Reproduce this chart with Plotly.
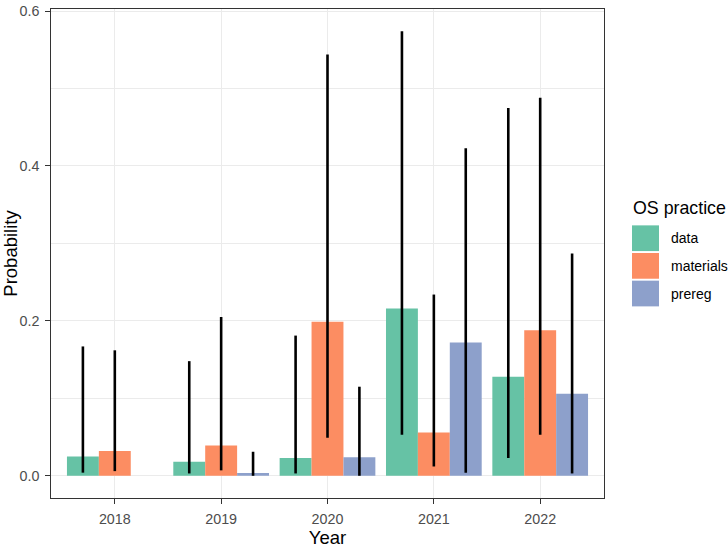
import plotly.graph_objects as go

years = ["2018", "2019", "2020", "2021", "2022"]
practices = ["data", "materials", "prereg"]
colors = ["#66C2A5", "#FC8D62", "#8DA0CB"]

data_p = [0.025, 0.018, 0.023, 0.216, 0.128]
data_lo = [0.004, 0.003, 0.003, 0.053, 0.023]
data_hi = [0.167, 0.148, 0.181, 0.574, 0.475]

materials_p = [0.032, 0.039, 0.199, 0.056, 0.188]
materials_lo = [0.006, 0.007, 0.049, 0.012, 0.053]
materials_hi = [0.162, 0.205, 0.544, 0.234, 0.488]

prereg_p = [None, 0.0035, 0.024, 0.172, 0.106]
prereg_lo = [None, 0.0, 0.0, 0.004, 0.003]
prereg_hi = [None, 0.031, 0.115, 0.423, 0.287]

y_ticks = [0.0, 0.2, 0.4, 0.6]

series = [
    (data_p, data_lo, data_hi),
    (materials_p, materials_lo, materials_hi),
    (prereg_p, prereg_lo, prereg_hi),
]

FONT = "Liberation Sans, Arial, sans-serif"
W, H = 728, 548
L, R, T, B = 51, 604, 3, 507  # panel pixel edges

fig = go.Figure()
for name, col, (p, lo, hi) in zip(practices, colors, series):
    plus = [None if v is None else h - v for v, h in zip(p, hi)]
    minus = [None if v is None else v - l for v, l in zip(p, lo)]
    fig.add_trace(go.Bar(
        x=years, y=p, name=name, marker=dict(color=col, line=dict(width=0)),
        error_y=dict(type="data", symmetric=False, array=plus, arrayminus=minus,
                     color="black", thickness=2.6, width=0),
        showlegend=False,
    ))

all_vals = [v for s in series for arr in s for v in arr if v is not None]
vmin, vmax = min(all_vals + [0]), max(all_vals)
pad = 0.05 * (vmax - vmin)

fig.update_layout(
    width=W, height=H,
    margin=dict(l=L, r=W - R, t=T, b=H - B),
    barmode="group", bargap=0.1, bargroupgap=0,
    plot_bgcolor="white", paper_bgcolor="white",
    font=dict(family=FONT, color="black"),
)
fig.update_xaxes(
    range=[-0.6, len(years) - 0.4],
    showgrid=True, gridcolor="#EBEBEB", gridwidth=1.4,
    showline=True, mirror=True, linecolor="#333333", linewidth=1.3,
    ticks="outside", ticklen=4.5, tickwidth=1.3, tickcolor="#333333",
    ticklabelstandoff=3,
    tickfont=dict(size=14.3, color="#4D4D4D", family=FONT),
    title=dict(text="Year", font=dict(size=18.5, color="black", family=FONT), standoff=5),
    zeroline=False,
)
fig.update_yaxes(
    range=[vmin - pad, vmax + pad],
    tickvals=y_ticks, ticktext=[f"{v:.1f}" for v in y_ticks],
    ticklabeloverflow="allow",
    showgrid=True, gridcolor="#EBEBEB", gridwidth=1.4,
    minor=dict(tickvals=[0.1, 0.3, 0.5], showgrid=True, gridcolor="#EBEBEB", gridwidth=0.7, ticks=""),
    showline=True, mirror=True, linecolor="#333333", linewidth=1.3,
    ticks="outside", ticklen=4.5, tickwidth=1.3, tickcolor="#333333",
    ticklabelstandoff=3,
    tickfont=dict(size=14.3, color="#4D4D4D", family=FONT),
    title=dict(text="Probability", font=dict(size=18.5, color="black", family=FONT), standoff=3),
    zeroline=False,
)

def px_x(px):
    return (px - L) / (R - L)

def px_y(py):
    return (B - py) / (B - T)

# manual legend
fig.add_annotation(x=px_x(631), y=px_y(208), xref="paper", yref="paper",
                   text="OS practice", showarrow=False, xanchor="left", yanchor="middle",
                   font=dict(size=17.8, color="black", family=FONT))
key_tops = [226, 254.5, 283]
for name, col, top in zip(practices, colors, key_tops):
    fig.add_shape(type="rect", xref="paper", yref="paper",
                  x0=px_x(632), x1=px_x(659), y0=px_y(top), y1=px_y(top + 26.5),
                  fillcolor=col, line=dict(width=0))
    fig.add_annotation(x=px_x(669), y=px_y(top + 13.5), xref="paper", yref="paper",
                       text=name, showarrow=False, xanchor="left", yanchor="middle",
                       font=dict(size=14, color="black", family=FONT))

fig.write_html("out.html")
